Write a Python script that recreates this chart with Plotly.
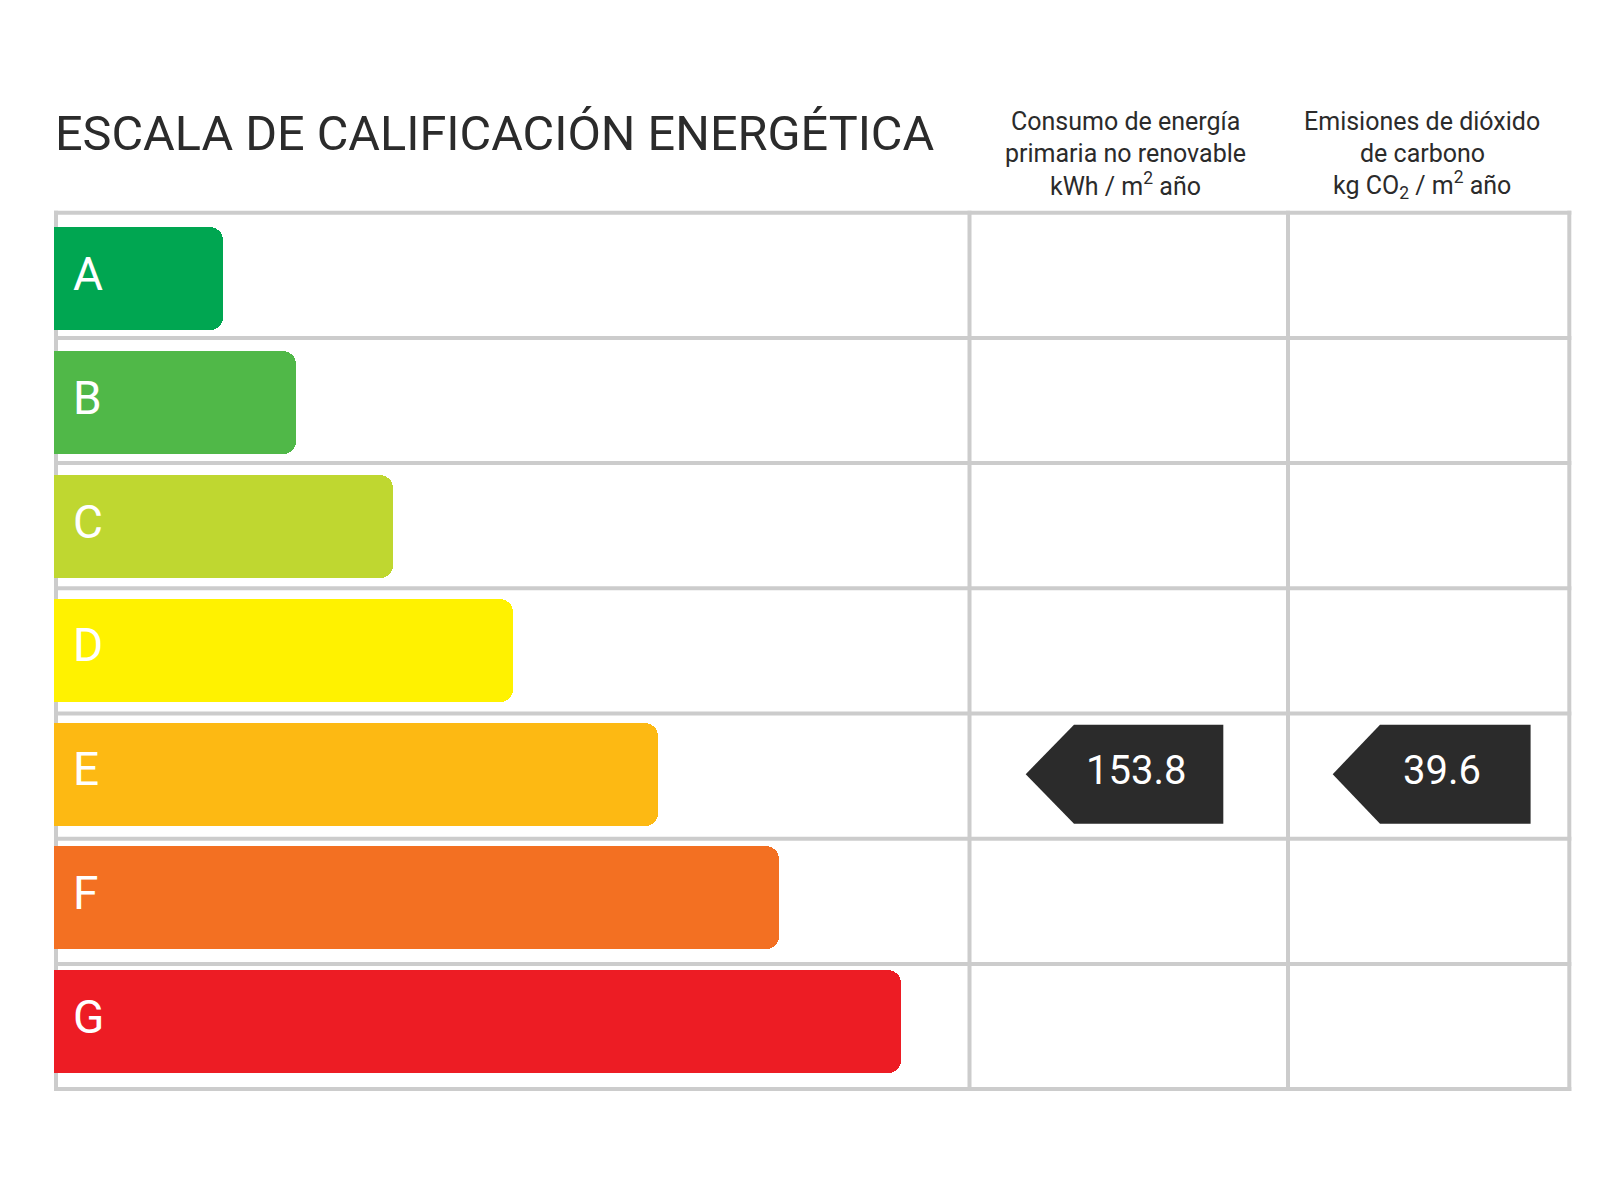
import plotly.graph_objects as go

# ---------------- data ----------------
ratings = ["A", "B", "C", "D", "E", "F", "G"]
bar_lengths = [18.5, 26.4, 37.0, 50.1, 66.0, 79.2, 92.5]   # relative length (0-100 of the scale column)
bar_colors = ["#00a651", "#50b848", "#bfd730", "#fff200", "#fdb913", "#f37022", "#ed1c24"]

title_text = "ESCALA DE CALIFICACIÓN ENERGÉTICA"
col1_header = ["Consumo de energía", "primaria no renovable", "kWh / m<sup>2</sup> año"]
col2_header = ["Emisiones de dióxido", "de carbono", "kg CO<sub>2</sub> / m<sup>2</sup> año"]
indicator_values = [153.8, 39.6]
indicator_ratings = ["E", "E"]

# ---------------- layout helpers ----------------
W, H = 1600, 1200
PAGE_OFF = 8  # default page margin of the html body
FONT = "Roboto, 'DejaVu Sans', sans-serif"
TXT = "#2b2b2b"
GRID = "#cccccc"


def px(p):
    return (p - PAGE_OFF) / W


def py(p):
    return 1 - (p - PAGE_OFF) / H


fig = go.Figure()

rows = list(range(len(ratings)))
fig.add_trace(go.Bar(
    x=bar_lengths, y=rows, orientation="h",
    marker=dict(color=bar_colors, cornerradius=13, line=dict(width=0)),
    width=0.832, hoverinfo="skip", showlegend=False,
))

shapes = []
# grid / table frame
top_px, pitch_px = 212.7, 125.2
left_px, right_px = 56, 1569.3
col_div_px = [56, 969.5, 1288, 1569.3]
for k in range(len(ratings) + 1):
    yy = top_px + k * pitch_px
    shapes.append(dict(type="line", xref="paper", yref="paper",
                       x0=px(left_px - 2), x1=px(right_px + 2), y0=py(yy), y1=py(yy),
                       line=dict(color=GRID, width=4), layer="below"))
for xv in col_div_px:
    shapes.append(dict(type="line", xref="paper", yref="paper",
                       x0=px(xv), x1=px(xv), y0=py(top_px - 2), y1=py(top_px + 7 * pitch_px + 2),
                       line=dict(color=GRID, width=4), layer="below"))

annotations = []
# letters inside bars
for i, r in enumerate(ratings):
    annotations.append(dict(x=0, y=i, xref="x", yref="y", text=r, showarrow=False,
                            xanchor="left", yanchor="middle", xshift=17, yshift=5,
                            font=dict(family=FONT, size=46, color="white")))

# indicator arrows
arrow_geom = [(1025.7, 1074, 1223.3), (1332.7, 1380, 1530.6)]
for (tip, sh, rt), val, rat in zip(arrow_geom, indicator_values, indicator_ratings):
    r = ratings.index(rat)
    h = 0.4
    path = (f"M {px(tip)},{r} L {px(sh)},{r - h} L {px(rt)},{r - h} "
            f"L {px(rt)},{r + h} L {px(sh)},{r + h} Z")
    shapes.append(dict(type="path", xref="paper", yref="y", path=path,
                       fillcolor="#2b2b2b", line=dict(width=0), layer="above"))
    annotations.append(dict(x=px(sh + 62), y=r, xref="paper", yref="y", text=f"{val:.1f}",
                            showarrow=False, xanchor="center", yanchor="middle", yshift=4,
                            font=dict(family=FONT, size=40, color="white")))

# title
annotations.append(dict(x=px(53), y=py(134), xref="paper", yref="paper", text=title_text,
                        showarrow=False, xanchor="left", yanchor="middle",
                        font=dict(family=FONT, size=48.6, color=TXT)))
# column headers (one annotation per line)
line_centers = [121.5, 153, 184.5]
for cx, lines in zip([1125, 1422], [col1_header, col2_header]):
    for yc, t in zip(line_centers, lines):
        annotations.append(dict(x=px(cx), y=py(yc), xref="paper", yref="paper", text=t,
                                showarrow=False, xanchor="center", yanchor="middle",
                                font=dict(family=FONT, size=25, color=TXT)))

fig.update_layout(
    width=W, height=H,
    margin=dict(l=0, r=0, t=0, b=0),
    paper_bgcolor="white", plot_bgcolor="rgba(0,0,0,0)",
    xaxis=dict(domain=[px(54), px(969.5)], range=[0, 100], visible=False, fixedrange=True),
    yaxis=dict(domain=[py(1083.7), py(217.1)], range=[6.5, -0.5], visible=False, fixedrange=True),
    shapes=shapes, annotations=annotations,
    showlegend=False, bargap=0,
)

fig.write_html("out.html")
